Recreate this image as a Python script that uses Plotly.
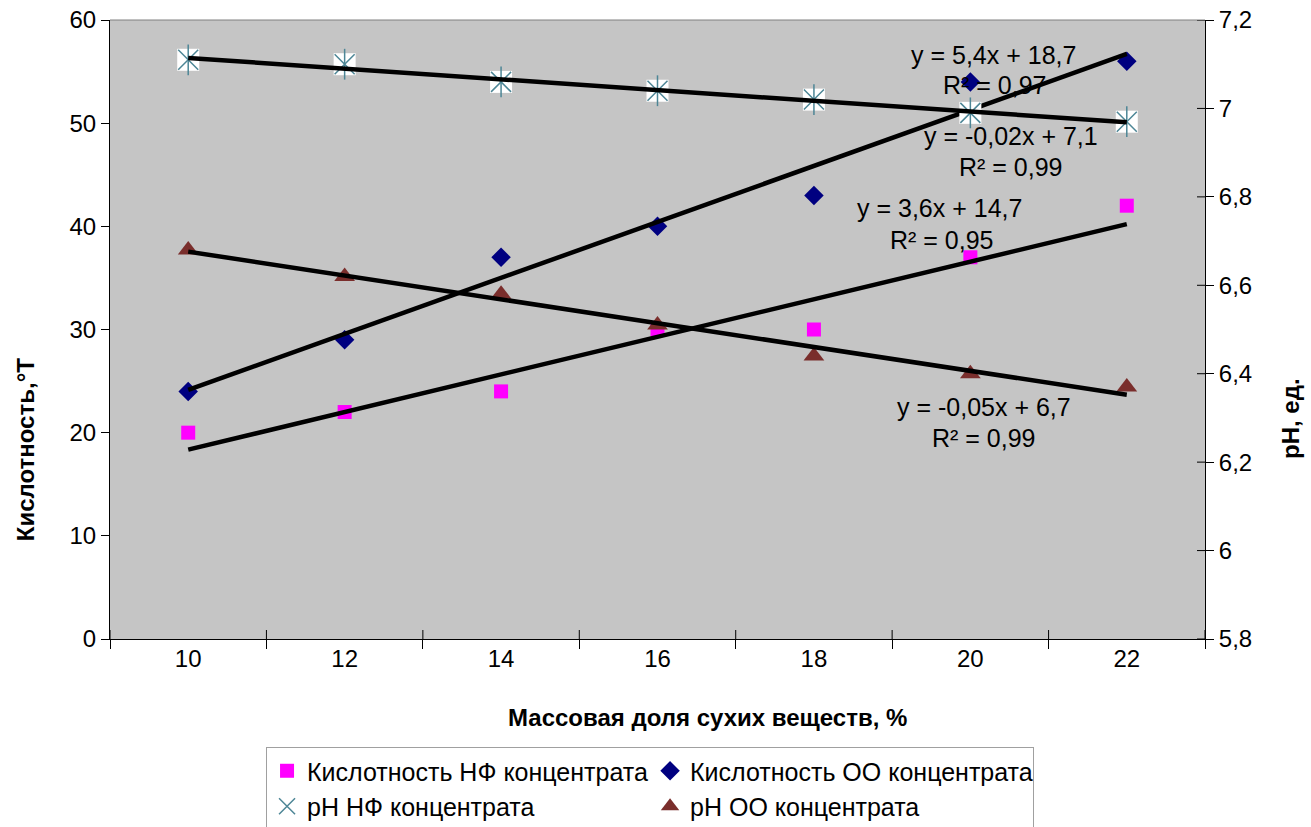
import numpy as np
import plotly.graph_objects as go

# Массовая доля сухих веществ, %
dry_matter = [10, 12, 14, 16, 18, 20, 22]

# Кислотность, °T
acid_nf = [20, 22, 24, 30, 30, 37, 42]
acid_oo = [24, 29, 37, 40, 43, 54, 56]

# pH, ед.
ph_nf = [7.11, 7.10, 7.06, 7.04, 7.02, 6.99, 6.97]
ph_oo = [6.68, 6.62, 6.58, 6.51, 6.44, 6.40, 6.37]

x_ticks = [10, 12, 14, 16, 18, 20, 22]
x_minor = [9, 11, 13, 15, 17, 19, 21, 23]
y_ticks = [0, 10, 20, 30, 40, 50, 60]
y2_ticks = [5.8, 6.0, 6.2, 6.4, 6.6, 6.8, 7.0, 7.2]
y2_text = ["5,8", "6", "6,2", "6,4", "6,6", "6,8", "7", "7,2"]

# trendline equation labels: (text, x, y)
eq_labels = [
    ("y = 5,4x + 18,7", 20.30, 56.6),
    ("R² = 0,97", 20.31, 53.7),
    ("y = -0,02x + 7,1", 20.52, 48.8),
    ("R² = 0,99", 20.52, 45.75),
    ("y = 3,6x + 14,7", 19.61, 41.8),
    ("R² = 0,95", 19.64, 38.7),
    ("y = -0,05x + 6,7", 20.17, 22.5),
    ("R² = 0,99", 20.17, 19.5),
]

FONT = "Arial, Liberation Sans, sans-serif"
STAR = "#4d8696"

fig = go.Figure()

fig.add_trace(go.Scatter(
    x=dry_matter, y=acid_nf, mode="markers", name="Кислотность НФ концентрата",
    marker=dict(symbol="square", size=14, color="#ff00ff"), yaxis="y"))
fig.add_trace(go.Scatter(
    x=dry_matter, y=acid_oo, mode="markers", name="Кислотность ОО концентрата",
    marker=dict(symbol="diamond", size=15, color="#000080"), yaxis="y"))
# white box behind the star marker
fig.add_trace(go.Scatter(
    x=dry_matter, y=ph_nf, mode="markers", showlegend=False, hoverinfo="skip",
    marker=dict(symbol="square", size=22, color="white"), yaxis="y2"))
fig.add_trace(go.Scatter(
    x=dry_matter, y=ph_nf, mode="markers", name="рН НФ концентрата",
    marker=dict(symbol="x-thin-open", size=20, color=STAR, line=dict(color=STAR, width=1.5)),
    yaxis="y2"))
fig.add_trace(go.Scatter(
    x=dry_matter, y=ph_nf, mode="markers", showlegend=False, hoverinfo="skip",
    marker=dict(symbol="line-ns-open", size=22, color=STAR, line=dict(color=STAR, width=1.5)),
    yaxis="y2"))
fig.add_trace(go.Scatter(
    x=dry_matter, y=ph_oo, mode="markers", name="рН ОО концентрата",
    marker=dict(symbol="triangle-up", size=18, color="#7a2e2c"), yaxis="y2"))

# linear trendlines fitted over the measurement points
xs = np.array(dry_matter, dtype=float)
for series, axis in [(acid_oo, "y"), (ph_nf, "y2"), (acid_nf, "y"), (ph_oo, "y2")]:
    k, b = np.polyfit(xs, np.array(series, dtype=float), 1)
    fig.add_trace(go.Scatter(
        x=[xs[0], xs[-1]], y=[k * xs[0] + b, k * xs[-1] + b], mode="lines",
        line=dict(color="black", width=4.5), showlegend=False, hoverinfo="skip",
        yaxis=axis))

annotations = [
    dict(text=t, x=x, y=y, xref="x", yref="y", showarrow=False,
         xanchor="center", yanchor="middle",
         font=dict(size=25, color="black", family=FONT))
    for t, x, y in eq_labels
]
annotations += [
    dict(text="<b>Кислотность,°T</b>", x=-0.0776, y=0.305, xref="paper", yref="paper",
         xanchor="center", yanchor="middle",
         textangle=-90, showarrow=False, font=dict(size=24, color="black", family=FONT)),
    dict(text="<b>рН, ед.</b>", x=1.0776, y=0.357, xref="paper", yref="paper",
         xanchor="center", yanchor="middle",
         textangle=-90, showarrow=False, font=dict(size=24, color="black", family=FONT)),
    dict(text="<b>Массовая доля сухих веществ, %</b>", x=0.546, y=-0.1276,
         xref="paper", yref="paper", showarrow=False,
         xanchor="center", yanchor="middle",
         font=dict(size=24, color="black", family=FONT)),
]

shapes = [
    # grey top border of the plot area
    dict(type="line", xref="paper", yref="paper", x0=0, x1=1, y0=1, y1=1,
         line=dict(color="#808080", width=1)),
]
# inner halves of the crossing ticks
for v in x_minor:
    shapes.append(dict(type="line", xref="x", yref="paper", x0=v, x1=v, y0=0, y1=9 / 619,
                       line=dict(color="black", width=1)))
for v in y2_ticks:
    shapes.append(dict(type="line", xref="paper", yref="y2", x0=1 - 8 / 1095, x1=1,
                       y0=v, y1=v, line=dict(color="black", width=1)))

fig.update_layout(
    width=1311, height=827,
    margin=dict(l=110, r=106, t=20, b=188, autoexpand=False),
    paper_bgcolor="white", plot_bgcolor="#c5c5c5",
    font=dict(family=FONT, size=25, color="black"),
    xaxis=dict(range=[9, 23], tickvals=x_ticks, ticks="", showgrid=False, zeroline=False,
               showline=True, linecolor="black", linewidth=1,
               tickfont=dict(size=24), ticklabelstandoff=-2,
               minor=dict(tickvals=x_minor, ticks="outside", ticklen=9,
                          tickcolor="black", tickwidth=1, showgrid=False)),
    yaxis=dict(range=[0, 60], tickvals=y_ticks, ticks="outside", ticklen=8,
               tickcolor="black", showgrid=False, zeroline=False, showline=True,
               linecolor="black", linewidth=1, tickfont=dict(size=24)),
    yaxis2=dict(range=[5.8, 7.2], tickvals=y2_ticks, ticktext=y2_text, overlaying="y",
                side="right", ticks="outside", ticklen=8, tickcolor="black",
                showgrid=False, zeroline=False, showline=True, linecolor="black",
                linewidth=1, tickfont=dict(size=24)),
    legend=dict(orientation="h", x=0.1425, y=-0.1745, xanchor="left", yanchor="top",
                bgcolor="white", bordercolor="#a0a0a0", borderwidth=1,
                entrywidth=338, entrywidthmode="pixels",
                font=dict(size=25, family=FONT, color="black")),
    annotations=annotations,
    shapes=shapes,
)

fig.write_html("out.html")
